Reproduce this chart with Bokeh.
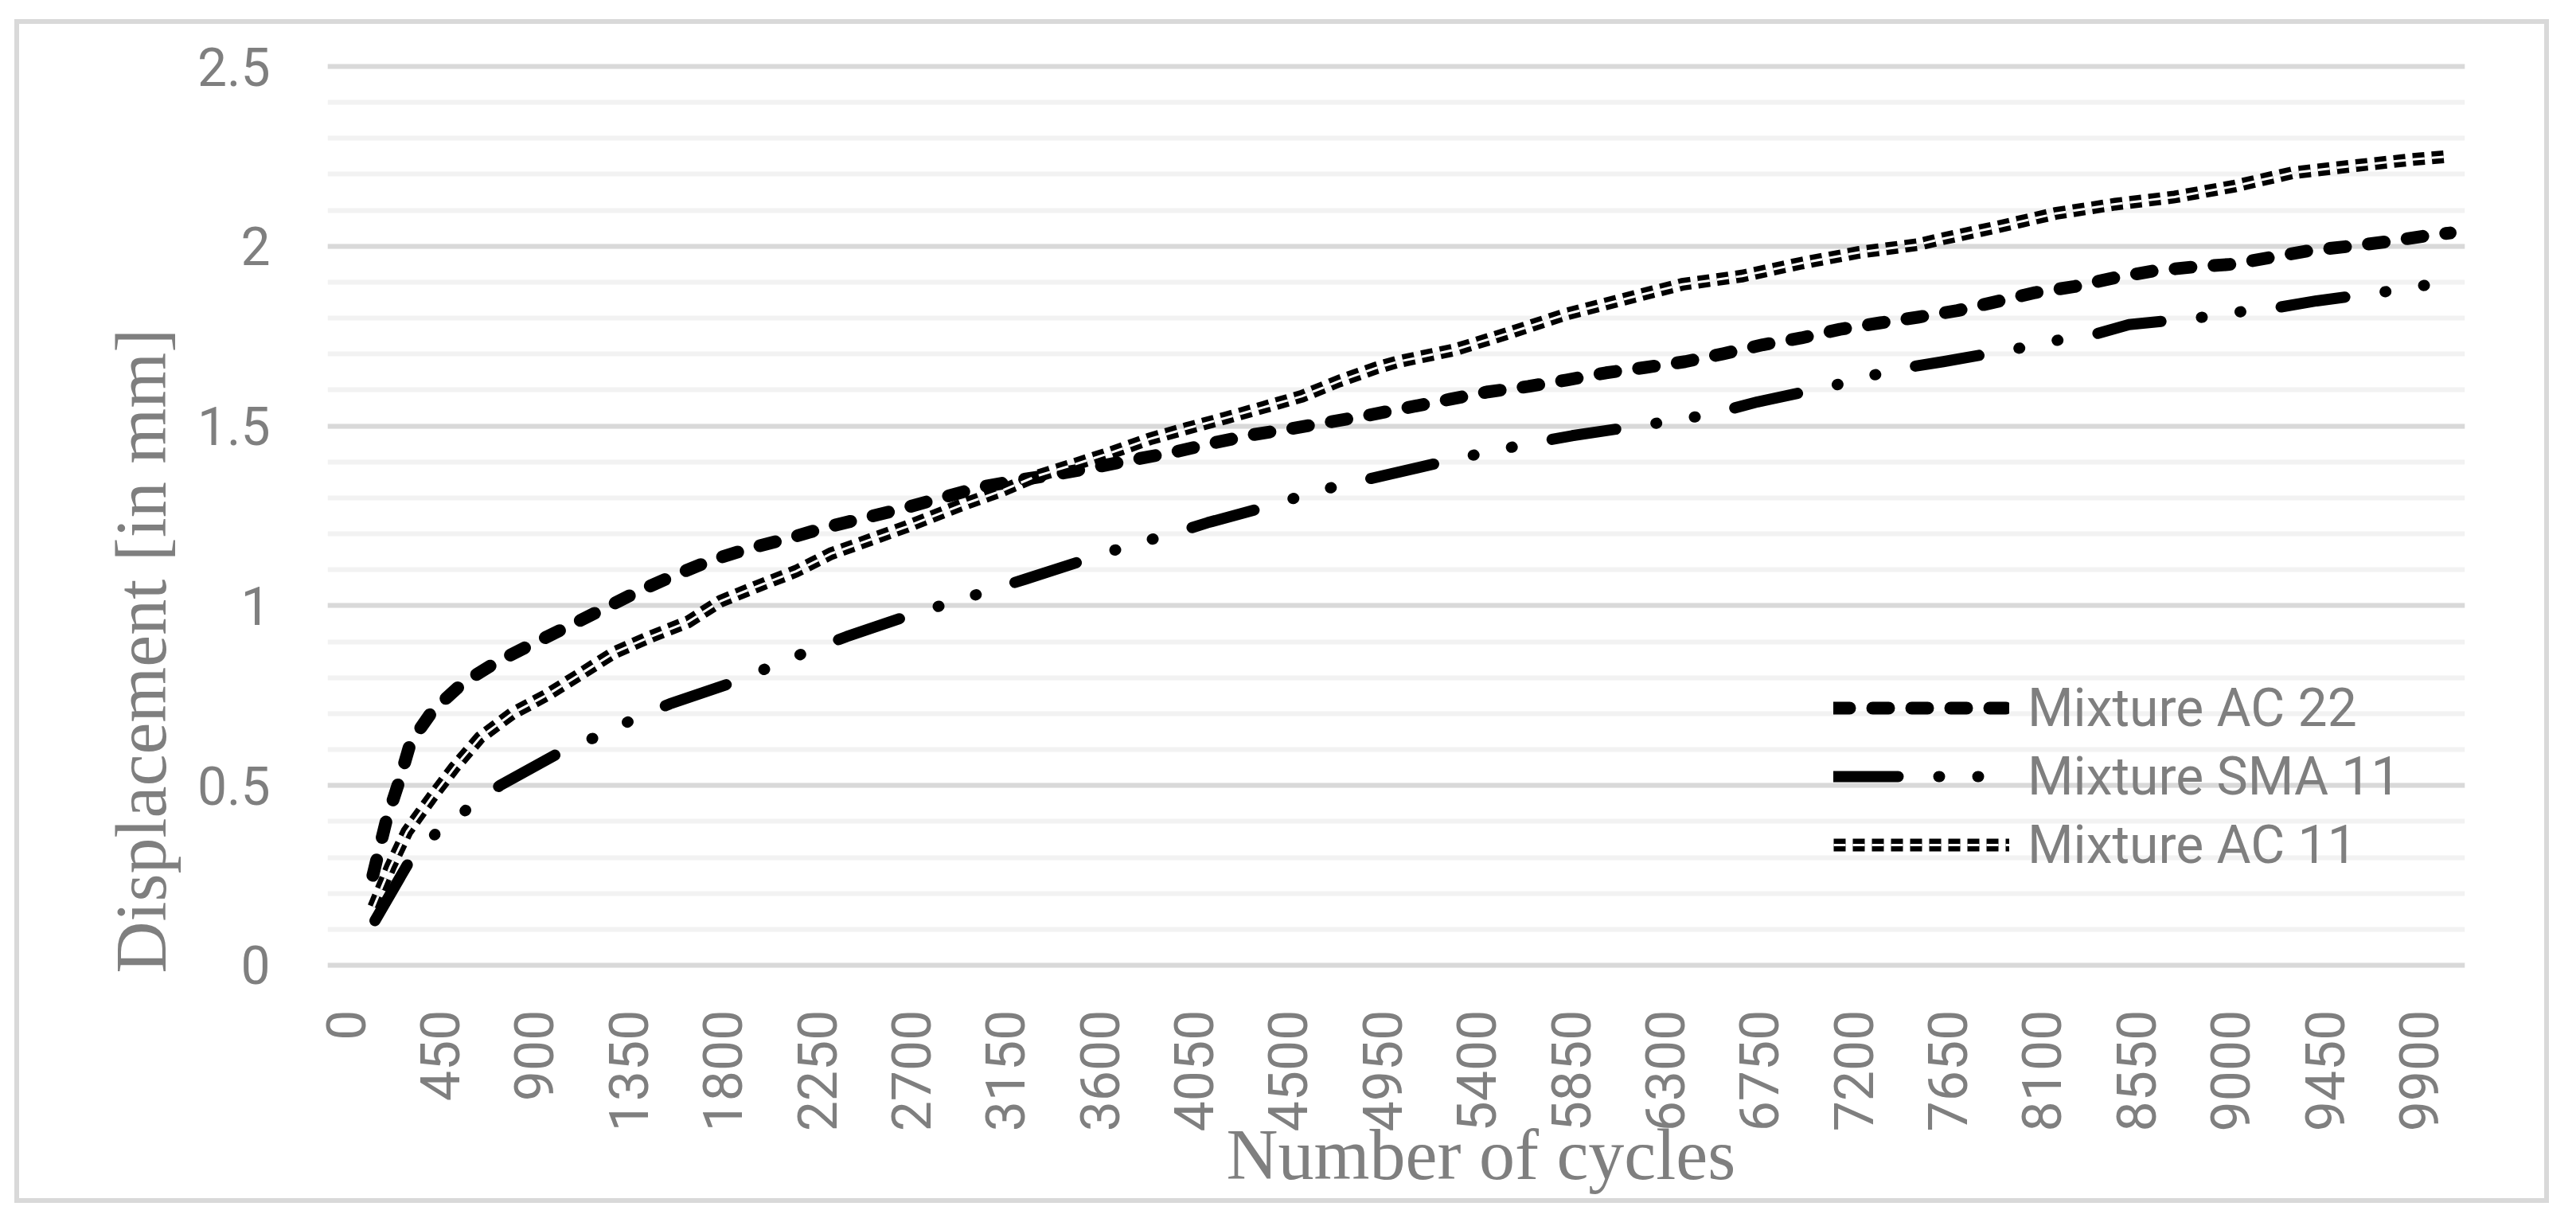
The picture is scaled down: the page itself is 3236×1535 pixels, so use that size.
from math import pi
from bokeh.plotting import figure
from bokeh.models import (Range1d, FixedTicker, SingleIntervalTicker, Title,
                          Legend, LegendItem, CustomJSTickFormatter)
from bokeh.embed import file_html
from bokeh.resources import INLINE

# ---------------- data ----------------
x_tick_values = [0, 450, 900, 1350, 1800, 2250, 2700, 3150, 3600, 4050, 4500, 4950,
                 5400, 5850, 6300, 6750, 7200, 7650, 8100, 8550, 9000, 9450, 9900]

cycles_ac22 = [130, 193, 260, 310, 418, 560, 711, 879, 1054, 1227, 1397, 1568, 1744, 1925,
               2112, 2293, 2470, 2664, 2844, 3032, 3222, 3405, 3593, 3777, 3961, 4145, 4334,
               4518, 4710, 4894, 5078, 5271, 5455, 5648, 5831, 6019, 6208, 6397, 6579, 6768,
               6952, 7136, 7329, 7513, 7697, 7884, 8068, 8257, 8445, 8629, 8818, 9010, 9194,
               9381, 9570, 9754, 9947, 10050]
disp_ac22 = [0.25, 0.40, 0.52, 0.62, 0.71, 0.785, 0.84, 0.89, 0.94, 0.99, 1.04, 1.084, 1.126,
             1.159, 1.187, 1.218, 1.243, 1.271, 1.30, 1.33, 1.35, 1.367, 1.387, 1.408, 1.428,
             1.453, 1.476, 1.493, 1.512, 1.531, 1.552, 1.574, 1.595, 1.61, 1.628, 1.648, 1.663,
             1.679, 1.701, 1.726, 1.745, 1.769, 1.787, 1.803, 1.821, 1.846, 1.871, 1.888, 1.912,
             1.931, 1.942, 1.95, 1.969, 1.988, 2.0, 2.013, 2.03, 2.037]

cycles_sma11 = [140, 309, 435, 589, 737, 1038, 1208, 1381, 1548, 1875, 2047, 2221, 2392, 2727,
                2898, 3079, 3246, 3581, 3753, 3937, 4116, 4451, 4623, 4807, 4986, 5337, 5500,
                5688, 5857, 6217, 6393, 6579, 6743, 7103, 7270, 7458, 7630, 7989, 8160, 8346,
                8516, 8876, 9052, 9240, 9412, 9772, 9947, 10050]
disp_sma11 = [0.124, 0.294, 0.369, 0.438, 0.50, 0.597, 0.638, 0.686, 0.727, 0.792, 0.835,
              0.876, 0.914, 0.98, 1.01, 1.043, 1.074, 1.137, 1.17, 1.198, 1.231, 1.284, 1.317,
              1.342, 1.366, 1.413, 1.433, 1.455, 1.473, 1.504, 1.519, 1.542, 1.567, 1.612,
              1.638, 1.663, 1.679, 1.716, 1.737, 1.754, 1.782, 1.803, 1.818, 1.831, 1.848,
              1.876, 1.893, 1.90]

cycles_ac11 = [134, 213, 293, 407, 519, 641, 795, 962, 1121, 1284, 1456, 1635, 1791, 1970,
               2151, 2318, 2420, 2679, 2945, 3129, 3297, 3480, 3656, 3840, 4016, 4200, 4384,
               4568, 4744, 4919, 5020, 5296, 5563, 5834, 6107, 6383, 6668, 6944, 7228, 7513,
               7605, 7898, 8165, 8450, 8734, 9019, 9295, 9579, 9864, 10050]
disp_ac11 = [0.162, 0.273, 0.372, 0.464, 0.55, 0.633, 0.70, 0.752, 0.81, 0.87, 0.914, 0.955,
             1.013, 1.055, 1.096, 1.145, 1.166, 1.22, 1.281, 1.319, 1.36, 1.393, 1.426, 1.464,
             1.493, 1.522, 1.552, 1.583, 1.625, 1.661, 1.678, 1.712, 1.76, 1.812, 1.853, 1.894,
             1.917, 1.952, 1.983, 2.005, 2.018, 2.055, 2.091, 2.117, 2.137, 2.167, 2.204,
             2.223, 2.241, 2.25]

series_names = ["Mixture AC 22", "Mixture SMA 11", "Mixture AC 11"]
x_title = "Number of cycles"
y_title = "Displacement [in mm]"

# ---------------- styling ----------------
GREY_TXT = "#7f7f7f"
TICK_FONT = "Roboto"
TITLE_FONT = "Liberation Serif"

p = figure(frame_width=2685, frame_height=1183, output_backend="svg", toolbar_location=None,
           x_range=Range1d(-86.3, 10120.5), y_range=Range1d(-0.0598, 2.5598),
           min_border_left=387, min_border_right=100, min_border_top=26, min_border_bottom=266)
p.styles = {"margin-left": "18px", "margin-top": "24px", "border": "6px solid #d9d9d9"}
p.outline_line_color = None
p.background_fill_color = "white"
p.border_fill_color = "white"

# y axis / grid
p.yaxis.ticker = SingleIntervalTicker(interval=0.5, num_minor_ticks=5)
p.yaxis.formatter = CustomJSTickFormatter(code="return String(Math.round(tick*10)/10)")
p.yaxis.axis_line_color = None
p.yaxis.major_tick_line_color = None
p.yaxis.minor_tick_line_color = None
p.yaxis.major_label_standoff = 66
p.yaxis.major_label_text_font = TICK_FONT
p.yaxis.major_label_text_font_size = "66px"
p.yaxis.major_label_text_color = GREY_TXT

p.ygrid.grid_line_color = "#d9d9d9"
p.ygrid.grid_line_width = 6
p.ygrid.minor_grid_line_color = "#f2f2f2"
p.ygrid.minor_grid_line_width = 6
p.xgrid.visible = False

# x axis
p.xaxis.ticker = FixedTicker(ticks=x_tick_values)
p.xaxis.major_label_orientation = pi / 2
p.xaxis.axis_line_color = None
p.xaxis.major_tick_line_color = None
p.xaxis.minor_tick_line_color = None
p.xaxis.major_label_standoff = 23
p.xaxis.major_label_text_font = TICK_FONT
p.xaxis.major_label_text_font_size = "68px"
p.xaxis.major_label_text_color = GREY_TXT

# series
r_ac22 = p.line(cycles_ac22, disp_ac22, line_color="black", line_width=16,
                line_dash="20 29", line_cap="round", line_join="round")
r_sma = p.line(cycles_sma11, disp_sma11, line_color="black", line_width=14,
               line_dash="81 51 1 48 1 51", line_cap="round", line_join="round")
r_ac11 = p.line(cycles_ac11, disp_ac11, line_color="black", line_width=16,
                line_dash="15 9", line_cap="butt", line_join="miter")
r_ac11w = p.line(cycles_ac11, disp_ac11, line_color="white", line_width=3,
                 line_dash="15 9", line_cap="butt", line_join="miter")

legend = Legend(items=[LegendItem(label=series_names[0], renderers=[r_ac22]),
                       LegendItem(label=series_names[1], renderers=[r_sma]),
                       LegendItem(label=series_names[2], renderers=[r_ac11, r_ac11w])],
                location=(1892, 135), orientation="vertical",
                glyph_width=221, glyph_height=86, label_height=86, label_standoff=23,
                spacing=0, padding=0, margin=0,
                border_line_alpha=0, background_fill_alpha=0,
                label_text_font=TICK_FONT, label_text_font_size="66px",
                label_text_color=GREY_TXT, label_text_baseline="middle")
p.add_layout(legend)

# axis titles (side panels, so they are not clipped by the frame)
p.add_layout(Title(text=y_title, align="left", offset=17, standoff=35,
                   text_font=TITLE_FONT, text_font_size="90px", text_color=GREY_TXT,
                   text_font_style="normal"), "left")
p.add_layout(Title(text=x_title, align="left", offset=1129, standoff=-52,
                   text_font=TITLE_FONT, text_font_size="90px", text_color=GREY_TXT,
                   text_font_style="normal"), "below")

open("out.html", "w").write(file_html(p, INLINE))
